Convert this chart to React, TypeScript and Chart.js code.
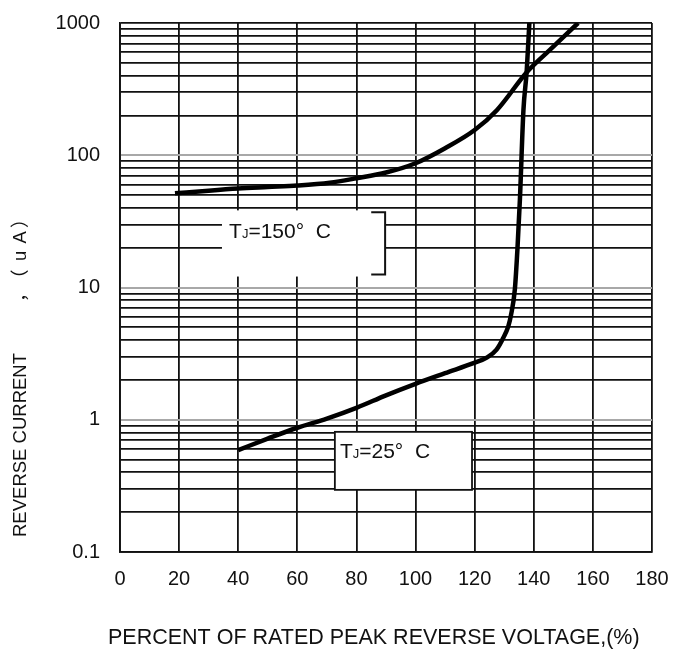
import React, { useEffect, useRef } from 'react';
import { Chart, registerables } from 'chart.js';

Chart.register(...registerables);

// ---- axis ticks / grid ----
const X_TICKS = [0, 20, 40, 60, 80, 100, 120, 140, 160, 180];
const Y_GRID = [
  0.1, 0.2, 0.3, 0.4, 0.5, 0.6, 0.7, 0.8, 0.9,
  1, 2, 3, 4, 5, 6, 7, 8, 9,
  10, 20, 30, 40, 50, 60, 70, 80, 90,
  100, 200, 300, 400, 500, 600, 700, 800, 900,
  1000,
];
const Y_LABELS = [0.1, 1, 10, 100, 1000];
const Y_GRAY_LINES = [1, 10, 100];

// ---- series: TJ = 150 °C ----
const T150_X = [18.6, 30, 40, 50, 60, 71, 80, 90, 100, 110, 120, 127.5, 137.7, 145, 155];
const T150_Y = [51.5, 54, 56, 57.5, 59, 62, 67, 74, 87, 113, 155, 219, 426, 613, 1000];

// ---- series: TJ = 25 °C ----
const T25_X = [40, 50, 60, 70, 80, 90, 100, 110, 119.8, 124.1, 127.4, 129.7, 131.4, 132.3, 133.6, 134.5, 135.3, 136.5, 137.6, 138.5];
const T25_Y = [0.59, 0.72, 0.87, 1.02, 1.23, 1.53, 1.87, 2.25, 2.69, 2.95, 3.39, 4.17, 5.1, 6.2, 9.7, 20, 46, 219, 430, 1000];

// ---- annotation boxes (data coordinates) ----
const BOX150 = { x0: 34.5, x1: 89.7, y0: 38.3, y1: 12.1, tickX: 85, text: '=150°  C', tx: 36.9, ty: 23.5 };
const BOX25 = { x0: 72.7, x1: 119.1, y0: 0.81, y1: 0.295, text: '=25°  C', tx: 74.4, ty: 0.515 };

const X_TITLE = 'PERCENT OF RATED PEAK REVERSE VOLTAGE,(%)';
const Y_TITLE_A = 'REVERSE CURRENT';
const Y_TITLE_B = '，';
const Y_TITLE_C = '（uA）';

const FONT = "'Liberation Sans', Arial, sans-serif";
const CJK = "'Liberation Sans', Arial, 'Noto Sans CJK SC', sans-serif";

const toPts = (xs: number[], ys: number[]) => xs.map((x, i) => ({ x, y: ys[i] }));

function drawTJ(ctx: CanvasRenderingContext2D, x: number, y: number, rest: string) {
  ctx.textAlign = 'left';
  ctx.textBaseline = 'alphabetic';
  ctx.fillStyle = '#111';
  ctx.font = `21px ${FONT}`;
  ctx.fillText('T', x, y);
  let cx = x + ctx.measureText('T').width;
  ctx.font = `13px ${FONT}`;
  ctx.fillText('J', cx, y);
  cx += ctx.measureText('J').width;
  ctx.font = `21px ${FONT}`;
  ctx.fillText(rest, cx, y);
}

// place a glyph so that its visible ink starts at text-x "start"
function fillInkAt(ctx: CanvasRenderingContext2D, s: string, start: number) {
  const m = ctx.measureText(s);
  ctx.textAlign = 'left';
  ctx.fillText(s, start + m.actualBoundingBoxLeft, 0);
}

const overlayPlugin = {
  id: 'overlay',
  beforeDatasetsDraw(chart: any) {
    const { ctx } = chart;
    const xs = chart.scales.x;
    const ys = chart.scales.y;
    ctx.save();
    // box 150
    {
      const l = xs.getPixelForValue(BOX150.x0);
      const r = xs.getPixelForValue(BOX150.x1);
      const t = ys.getPixelForValue(BOX150.y0);
      const b = ys.getPixelForValue(BOX150.y1);
      ctx.fillStyle = '#fff';
      ctx.fillRect(l, t, r - l, b - t);
      const tk = xs.getPixelForValue(BOX150.tickX);
      ctx.strokeStyle = '#111';
      ctx.lineWidth = 2;
      ctx.beginPath();
      ctx.moveTo(tk, t + 2);
      ctx.lineTo(r, t + 2);
      ctx.lineTo(r, b - 2);
      ctx.lineTo(tk, b - 2);
      ctx.stroke();
      drawTJ(ctx, xs.getPixelForValue(BOX150.tx), ys.getPixelForValue(BOX150.ty), BOX150.text);
    }
    // box 25
    {
      const l = xs.getPixelForValue(BOX25.x0);
      const r = xs.getPixelForValue(BOX25.x1);
      const t = ys.getPixelForValue(BOX25.y0);
      const b = ys.getPixelForValue(BOX25.y1);
      ctx.fillStyle = '#fff';
      ctx.fillRect(l, t, r - l, b - t);
      ctx.strokeStyle = '#111';
      ctx.lineWidth = 1.8;
      ctx.strokeRect(l, t, r - l, b - t);
      drawTJ(ctx, xs.getPixelForValue(BOX25.tx), ys.getPixelForValue(BOX25.ty), BOX25.text);
    }
    ctx.restore();
  },
  afterDraw(chart: any) {
    const { ctx } = chart;
    ctx.save();
    ctx.fillStyle = '#111';
    // x title
    ctx.font = `21.5px ${FONT}`;
    ctx.textAlign = 'left';
    ctx.textBaseline = 'middle';
    ctx.fillText(X_TITLE, 108, 638);
    // y title (rotated, text runs upward; text-x = -pageY)
    ctx.translate(21, 0);
    ctx.rotate(-Math.PI / 2);
    ctx.font = `18.5px ${CJK}`;
    ctx.textBaseline = 'middle';
    ctx.textAlign = 'left';
    ctx.fillText(Y_TITLE_A, -537, 0);
    fillInkAt(ctx, Y_TITLE_B, -300);
    const chars = Array.from(Y_TITLE_C);
    fillInkAt(ctx, chars[0], -276);
    fillInkAt(ctx, chars[1], -260);
    fillInkAt(ctx, chars[2], -243.5);
    fillInkAt(ctx, chars[3], -228);
    ctx.restore();
  },
};

export default function App() {
  const ref = useRef<HTMLCanvasElement | null>(null);

  useEffect(() => {
    if (!ref.current) return;
    Chart.defaults.font.family = FONT;
    const chart = new Chart(ref.current, {
      type: 'line',
      data: {
        datasets: [
          {
            label: 'TJ=150° C',
            data: toPts(T150_X, T150_Y),
            borderColor: '#000',
            borderWidth: 4.5,
            pointRadius: 0,
            fill: false,
            cubicInterpolationMode: 'monotone',
          },
          {
            label: 'TJ=25° C',
            data: toPts(T25_X, T25_Y),
            borderColor: '#000',
            borderWidth: 4.5,
            pointRadius: 0,
            fill: false,
            cubicInterpolationMode: 'monotone',
          },
        ],
      },
      options: {
        responsive: false,
        animation: false,
        layout: { padding: { top: 23, right: 22, left: 0, bottom: 0 } },
        plugins: {
          legend: { display: false },
          tooltip: { enabled: false },
          title: { display: false },
        },
        scales: {
          x: {
            type: 'linear',
            min: 0,
            max: 180,
            afterBuildTicks: (s: any) => {
              s.ticks = X_TICKS.map((v) => ({ value: v }));
            },
            afterFit: (s: any) => {
              s.height = 100;
            },
            ticks: {
              autoSkip: false,
              maxRotation: 0,
              padding: 0,
              color: '#111',
              font: { size: 20, family: FONT },
              callback: (v: any) => String(v),
            },
            grid: {
              color: '#111',
              lineWidth: 1.8,
              drawTicks: true,
              tickLength: 15,
              tickColor: 'rgba(0,0,0,0)',
            },
            border: { display: true, color: '#111', width: 1.8 },
          },
          y: {
            type: 'logarithmic',
            min: 0.1,
            max: 1000,
            afterBuildTicks: (s: any) => {
              s.ticks = Y_GRID.map((v) => ({ value: v }));
            },
            afterFit: (s: any) => {
              s.width = 120;
            },
            ticks: {
              autoSkip: false,
              padding: 0,
              color: '#111',
              font: { size: 20, family: FONT },
              callback: (v: any) => (Y_LABELS.includes(Number(v)) ? String(v) : ''),
            },
            grid: {
              drawTicks: true,
              tickLength: 20,
              tickColor: 'rgba(0,0,0,0)',
              color: (c: any) => (Y_GRAY_LINES.includes(c.tick?.value) ? '#a8a8a8' : '#111'),
              lineWidth: (c: any) => (Y_GRAY_LINES.includes(c.tick?.value) ? 2 : 1.8),
            },
            border: { display: true, color: '#111', width: 1.8 },
          },
        },
      },
      plugins: [overlayPlugin],
    } as any);
    return () => chart.destroy();
  }, []);

  return (
    <div style={{ position: 'fixed', left: 0, top: 0, width: 674, height: 652, background: '#fff' }}>
      <canvas ref={ref} width={674} height={652} style={{ display: 'block' }} />
    </div>
  );
}
